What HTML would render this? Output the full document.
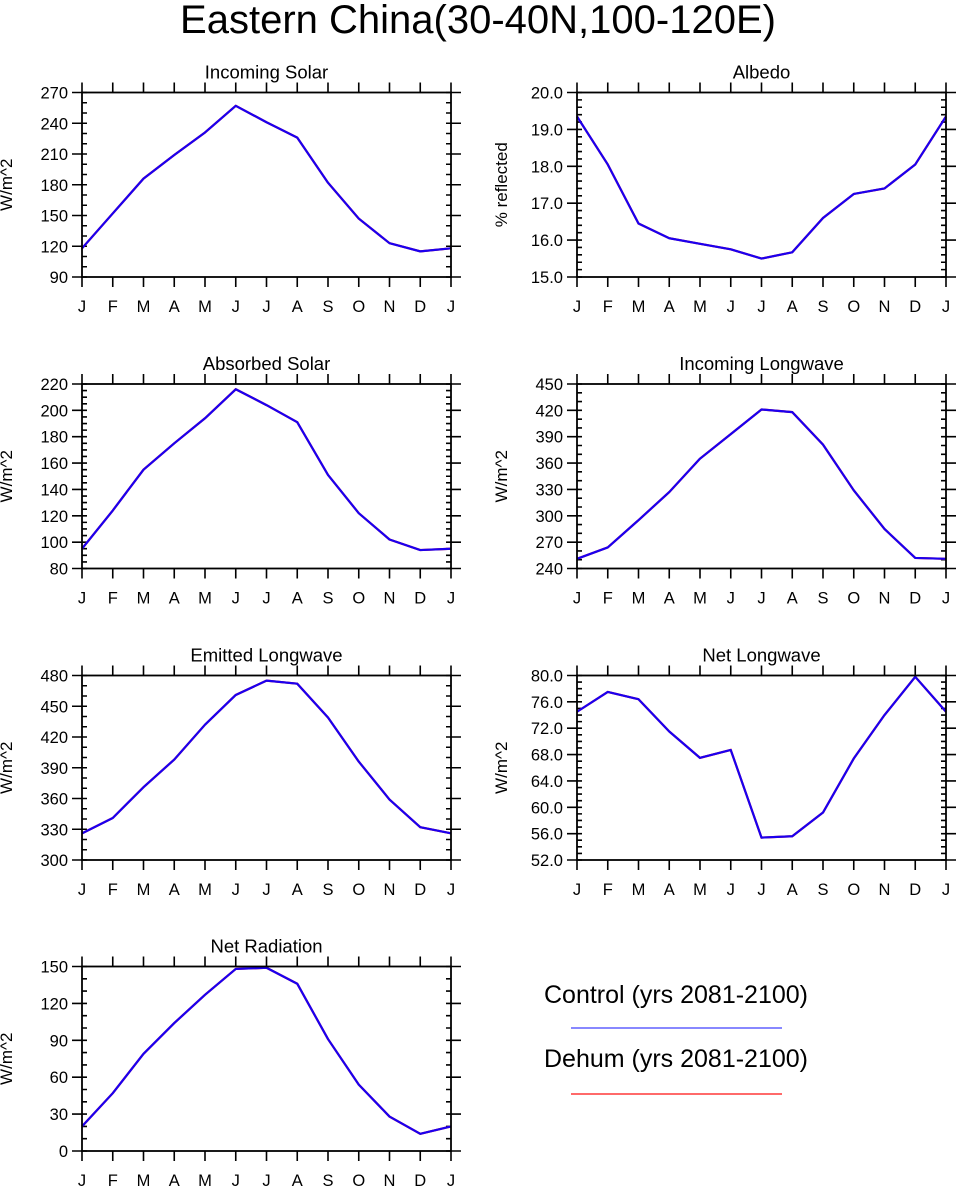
<!DOCTYPE html>
<html><head><meta charset="utf-8"><style>
html,body{margin:0;padding:0;background:#fff}
svg{display:block;font-family:"Liberation Sans",Arial,sans-serif}
</style></head><body>
<svg id="fig" width="957" height="1187" viewBox="0 0 957 1187" xmlns="http://www.w3.org/2000/svg">
<text x="478" y="33" font-size="40" text-anchor="middle">Eastern China(30-40N,100-120E)</text>
<g>
<text x="676" y="1003" font-size="25" text-anchor="middle">Control (yrs 2081-2100)</text>
<line x1="571" y1="1028" x2="782" y2="1028" stroke="#4040ff" stroke-width="1.3"/>
<text x="676" y="1067" font-size="25" text-anchor="middle">Dehum (yrs 2081-2100)</text>
<line x1="571" y1="1094" x2="782" y2="1094" stroke="#ff1010" stroke-width="1.3"/>
</g>
</svg>
<script>
const months = ["J","F","M","A","M","J","J","A","S","O","N","D","J"];
const incomingSolar = [118,152,186,209,231,257,241,226,182,147,123,115,118];
const albedo = [19.35,18.05,16.45,16.05,15.9,15.75,15.5,15.67,16.6,17.25,17.4,18.05,19.35];
const absorbedSolar = [95,124,155,175,194,216,204,191,151,122,102,94,95];
const incomingLW = [251,264,295,327,365,393,421,418,381,329,285,252,251];
const emittedLW = [326,341,371,398,432,461,475,472,439,396,359,332,326];
const netLW = [74.5,77.5,76.4,71.5,67.5,68.7,55.4,55.6,59.2,67.4,74,79.8,74.5];
const netRad = [20,47,79,104,127,148,149,136,91,54,28,14,20];
const panels = [
 {name:"incoming-solar",title:"Incoming Solar",yl:"W/m^2",data:incomingSolar,min:90,max:270,step:30,minor:10,dec:0,col:0,row:0},
 {name:"albedo",title:"Albedo",yl:"% reflected",data:albedo,min:15,max:20,step:1,minor:0.2,dec:1,col:1,row:0},
 {name:"absorbed-solar",title:"Absorbed Solar",yl:"W/m^2",data:absorbedSolar,min:80,max:220,step:20,minor:5,dec:0,col:0,row:1},
 {name:"incoming-longwave",title:"Incoming Longwave",yl:"W/m^2",data:incomingLW,min:240,max:450,step:30,minor:10,dec:0,col:1,row:1},
 {name:"emitted-longwave",title:"Emitted Longwave",yl:"W/m^2",data:emittedLW,min:300,max:480,step:30,minor:10,dec:0,col:0,row:2},
 {name:"net-longwave",title:"Net Longwave",yl:"W/m^2",data:netLW,min:52,max:80,step:4,minor:1,dec:1,col:1,row:2},
 {name:"net-radiation",title:"Net Radiation",yl:"W/m^2",data:netRad,min:0,max:150,step:30,minor:10,dec:0,col:0,row:3}
];
const NS="http://www.w3.org/2000/svg";
const svg=document.getElementById("fig");
function mk(tag,attrs,parent){const e=document.createElementNS(NS,tag);for(const k in attrs)e.setAttribute(k,attrs[k]);parent.appendChild(e);return e;}
const lefts=[82,577], tops=[92.5,384,675.5,966.5], W=369, H=184.5;
panels.forEach(p=>{
 const L=lefts[p.col], T=tops[p.row], R=L+W, B=T+H;
 const g=mk("g",{},svg);
 
 
 const xs=i=>L+i*W/12;
 const ys=v=>B-(v-p.min)/(p.max-p.min)*H;
 const t=mk("text",{x:(L+R)/2,y:T-14,"font-size":18.5,"text-anchor":"middle"},g);
 t.textContent=p.title;
 
 
 const yl=mk("text",{x:0,y:0,"font-size":17,"text-anchor":"middle",transform:`translate(${L-70},${(T+B)/2}) rotate(-90)`},g);
 yl.textContent=p.yl;
 
 
 let d="";
 for(let i=0;i<=12;i++){const x=xs(i);d+=`M${x},${B}V${B+10}M${x},${T}V${T-10}`;
  const lb=mk("text",{x:x,y:B+35,"font-size":16.5,"text-anchor":"middle"},g);
  lb.textContent=months[i];
  
  
 }
 const nMaj=Math.round((p.max-p.min)/p.step);
 for(let k=0;k<=nMaj;k++){const v=p.min+k*p.step,y=ys(v);d+=`M${L},${y}H${L-10}M${R},${y}H${R+10}`;
  const lb=mk("text",{x:L-14,y:y+6,"font-size":16.5,"text-anchor":"end"},g);
  lb.textContent=v.toFixed(p.dec);
  
  
 }
 const nMin=Math.round((p.max-p.min)/p.minor);
 for(let k=0;k<=nMin;k++){const y=ys(p.min+k*p.minor);d+=`M${L},${y}H${L+5}M${R},${y}H${R-5}`;}
 const ticks=mk("path",{d:d,stroke:"#000","stroke-width":1.6,fill:"none"},g);
 
 
 const red=mk("polyline",{points:p.data.map((v,i)=>xs(i)+","+ys(v)).join(" "),stroke:"#ff0000","stroke-width":2.2,fill:"none"},g);
 
 
 const blue=mk("polyline",{points:p.data.map((v,i)=>xs(i)+","+ys(v)).join(" "),stroke:"#1a00f0","stroke-width":2.2,fill:"none","stroke-linejoin":"round"},g);
 
 
 const frame=mk("rect",{x:L,y:T,width:W,height:H,fill:"none",stroke:"#000","stroke-width":1.8},g);
 
 
});
</script>
</body></html>
